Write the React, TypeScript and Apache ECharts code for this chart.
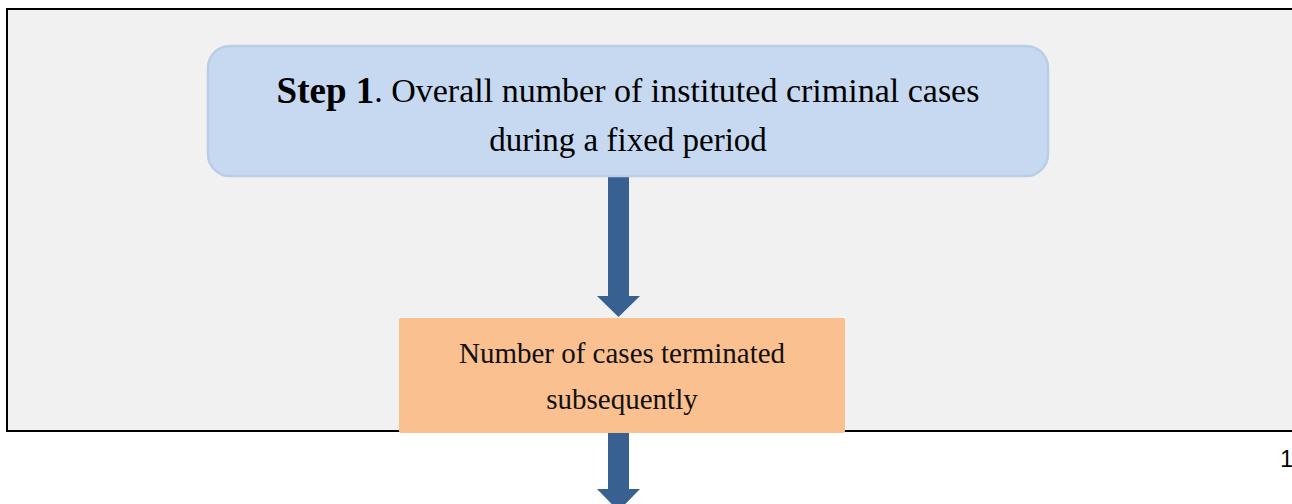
import React, { useEffect, useRef } from "react";
import * as echarts from "echarts";

const stepLabel = "Step 1";
const stepLine1 = ". Overall number of instituted criminal cases";
const stepLine2 = "during a fixed period";
const termLines = ["Number of cases terminated", "subsequently"];
const pageNumber = "1";

export default function App() {
  const ref = useRef<HTMLDivElement>(null);
  useEffect(() => {
    if (!ref.current) return;
    const chart = echarts.init(ref.current, undefined, { renderer: "svg" });
    const serif = "Liberation Serif";
    const arrowColor = "#386192";
    chart.setOption({
      animation: false,
      backgroundColor: "#ffffff",
      graphic: [
        {
          type: "rect",
          shape: { x: 7, y: 9, width: 1300, height: 422 },
          style: { fill: "#f1f1f1", stroke: "#000000", lineWidth: 2 },
        },
        {
          type: "rect",
          shape: { x: 608, y: 176, width: 21, height: 121 },
          style: { fill: arrowColor },
        },
        {
          type: "polygon",
          shape: { points: [[597, 296], [640, 296], [618.5, 317]] },
          style: { fill: arrowColor },
        },
        {
          type: "rect",
          shape: { x: 208, y: 46, width: 840, height: 130, r: 22 },
          style: { fill: "#c6d9f0", stroke: "#b9cde5", lineWidth: 2.5 },
        },
        {
          type: "text",
          x: 628,
          y: 90,
          style: {
            text: "{b|" + stepLabel + "}{r|" + stepLine1 + "}",
            align: "center",
            verticalAlign: "middle",
            rich: {
              b: { fontFamily: serif, fontSize: 37, fontWeight: "bold", fill: "#000" },
              r: { fontFamily: serif, fontSize: 34, fill: "#000" },
            },
          },
        },
        {
          type: "text",
          x: 628,
          y: 140,
          style: {
            text: stepLine2,
            align: "center",
            verticalAlign: "middle",
            fontFamily: serif,
            fontSize: 33,
            fill: "#000",
          },
        },
        {
          type: "rect",
          shape: { x: 608, y: 432, width: 21, height: 58 },
          style: { fill: arrowColor },
        },
        {
          type: "polygon",
          shape: { points: [[597, 489], [640, 489], [618.5, 511]] },
          style: { fill: arrowColor },
        },
        {
          type: "rect",
          shape: { x: 399, y: 318, width: 446, height: 115, r: 2 },
          style: { fill: "#fac090" },
        },
        {
          type: "text",
          x: 622,
          y: 353,
          style: {
            text: termLines[0],
            align: "center",
            verticalAlign: "middle",
            fontFamily: serif,
            fontSize: 29,
            fill: "#111",
          },
        },
        {
          type: "text",
          x: 622,
          y: 399,
          style: {
            text: termLines[1],
            align: "center",
            verticalAlign: "middle",
            fontFamily: serif,
            fontSize: 29,
            fill: "#111",
          },
        },
        {
          type: "text",
          x: 1293,
          y: 459,
          style: {
            text: pageNumber,
            align: "right",
            verticalAlign: "middle",
            fontFamily: "Liberation Sans",
            fontSize: 23,
            fill: "#000",
          },
        },
      ],
    });
    return () => chart.dispose();
  }, []);
  return (
    <div
      ref={ref}
      style={{ position: "fixed", left: 0, top: 0, width: 1292, height: 504 }}
    />
  );
}
